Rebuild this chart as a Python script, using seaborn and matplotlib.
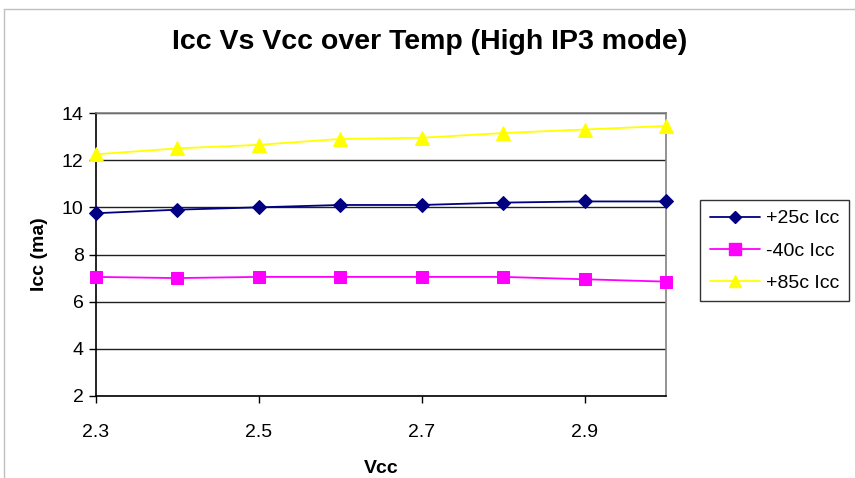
import matplotlib
matplotlib.use("Agg")
import matplotlib.pyplot as plt
import seaborn as sns
import pandas as pd
from matplotlib.lines import Line2D

vcc = [2.3, 2.4, 2.5, 2.6, 2.7, 2.8, 2.9, 3.0]
icc_25c = [9.75, 9.9, 10.0, 10.1, 10.1, 10.2, 10.25, 10.25]
icc_m40c = [7.05, 7.0, 7.05, 7.05, 7.05, 7.05, 6.95, 6.85]
icc_85c = [12.25, 12.5, 12.65, 12.9, 12.95, 13.15, 13.3, 13.45]
series_names = ["+25c Icc", "-40c Icc", "+85c Icc"]
x_ticks = [2.3, 2.5, 2.7, 2.9]
y_ticks = [2, 4, 6, 8, 10, 12, 14]

df = pd.DataFrame({
    "Vcc": vcc * 3,
    "Icc": icc_25c + icc_m40c + icc_85c,
    "series": [series_names[0]] * len(vcc) + [series_names[1]] * len(vcc) + [series_names[2]] * len(vcc),
})

sns.set_style("white")
plt.rcParams["font.family"] = ["Liberation Sans", "DejaVu Sans"]
plt.rcParams["text.color"] = "black"
plt.rcParams["axes.labelcolor"] = "black"
plt.rcParams["xtick.color"] = "black"
plt.rcParams["ytick.color"] = "black"

fig = plt.figure(figsize=(8.55, 4.78), dpi=100)
ax = fig.add_axes([96 / 855, 1 - 396 / 478, (666 - 96) / 855, (396 - 113) / 478])

colors = {"+25c Icc": "#000080", "-40c Icc": "#FF00FF", "+85c Icc": "#FFFF00"}
markers = {"+25c Icc": "D", "-40c Icc": "s", "+85c Icc": "^"}
sizes = {"+25c Icc": 7, "-40c Icc": 9, "+85c Icc": 10}

for name in series_names:
    sub = df[df["series"] == name]
    sns.lineplot(data=sub, x="Vcc", y="Icc", ax=ax, color=colors[name],
                 marker=markers[name], markersize=sizes[name],
                 markeredgecolor=colors[name], linewidth=1.3, label=name,
                 legend=False, clip_on=False, zorder=3)

ax.set_xlim(2.3, 3.0)
ax.set_ylim(2, 14)
ax.set_xticks(x_ticks)
ax.set_xticklabels([f"{t:.1f}" for t in x_ticks])
ax.set_yticks(y_ticks)
ax.set_yticklabels([str(t) for t in y_ticks])
ax.yaxis.grid(True, color="#202020", linewidth=1.0)
ax.xaxis.grid(False)
ax.set_axisbelow(True)

for s in ["left", "bottom"]:
    ax.spines[s].set_color("#000000")
    ax.spines[s].set_linewidth(1.2)
for s in ["top", "right"]:
    ax.spines[s].set_color("#808080")
    ax.spines[s].set_linewidth(1.2)

ax.tick_params(axis="both", which="both", direction="out", length=5, width=1,
               color="#000000", labelcolor="#000000", labelsize=14, left=True, bottom=True)
ax.tick_params(axis="x", pad=15)
ax.tick_params(axis="y", pad=4)

ax.set_xlabel("Vcc", fontsize=14, fontweight="bold", labelpad=14, color="black")
ax.set_ylabel("Icc (ma)", fontsize=14, fontweight="bold", labelpad=10, color="black")

fig.text(430 / 855, 1 - 42 / 478, "Icc Vs Vcc over Temp (High IP3 mode)",
         ha="center", va="center", fontsize=20.5, fontweight="bold", color="black")

handles = [Line2D([0], [0], color=colors[n], marker=markers[n], markersize=sizes[n] - 1,
                  markeredgecolor=colors[n], linewidth=1.3) for n in series_names]
leg = fig.legend(handles, series_names, loc="upper left",
                 bbox_to_anchor=(700 / 855, 1 - 200 / 478), frameon=True,
                 fontsize=14, fancybox=False, handlelength=2.6,
                 borderpad=0.5, labelspacing=0.75, handletextpad=0.3,
                 borderaxespad=0)
leg.get_frame().set_edgecolor("#000000")
leg.get_frame().set_linewidth(1.0)

fig.add_artist(Line2D([4 / 855, 4 / 855], [0, 1 - 9 / 478], transform=fig.transFigure,
                      color="#c0c0c0", linewidth=1))
fig.add_artist(Line2D([4 / 855, 1], [1 - 9 / 478, 1 - 9 / 478], transform=fig.transFigure,
                      color="#c0c0c0", linewidth=1))

fig.savefig("out.png", dpi=100)
